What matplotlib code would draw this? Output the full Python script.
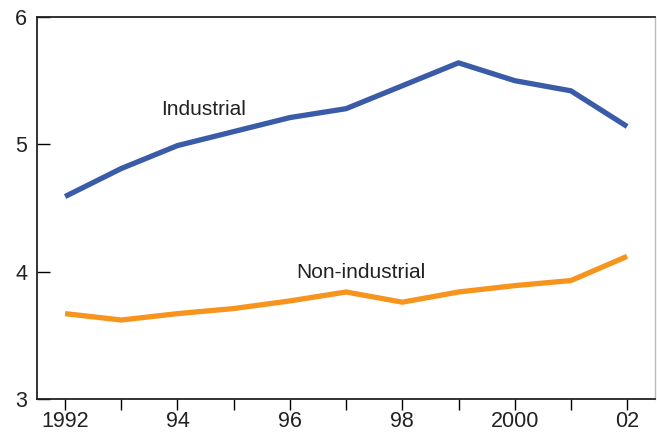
import matplotlib

matplotlib.use("Agg")

import matplotlib.pyplot as plt

plt.rcParams["font.family"] = ["Liberation Sans", "DejaVu Sans"]

years = list(range(1992, 2003))
industrial = [4.59, 4.81, 4.99, 5.10, 5.21, 5.28, 5.46, 5.64, 5.50, 5.42, 5.14]
non_industrial = [3.67, 3.62, 3.67, 3.71, 3.77, 3.84, 3.76, 3.84, 3.89, 3.93, 4.12]
tick_years = [1992, 1994, 1996, 1998, 2000, 2002]
tick_labels = ["1992", "94", "96", "98", "2000", "02"]

fig = plt.figure(figsize=(6.57, 4.36), dpi=100)
ax = fig.add_axes([0.0563, 0.085, 0.941, 0.876])

ax.plot(years, industrial, color="#3a5ba8", lw=3.8, solid_capstyle="butt")
ax.plot(years, non_industrial, color="#f7941d", lw=3.8, solid_capstyle="butt")

ax.text(1994.47, 5.27, "Industrial", fontsize=15, ha="center", va="center",
        color="#222222")
ax.text(1997.27, 3.99, "Non-industrial", fontsize=15, ha="center", va="center",
        color="#222222")

ax.set_xlim(1991.5, 2002.5)
ax.set_ylim(3, 6)
ax.set_yticks([3, 4, 5, 6])
ax.set_xticks(years, minor=True)
ax.set_xticks(tick_years)
ax.set_xticklabels(tick_labels)

ax.tick_params(axis="y", direction="in", length=9, width=1, labelsize=15.5,
               pad=7, labelcolor="#222222")
ax.tick_params(axis="x", which="both", direction="out", length=8, width=1,
               labelsize=15.5, pad=1, labelcolor="#222222")

for s in ["left", "bottom", "top"]:
    ax.spines[s].set_linewidth(1.3)
    ax.spines[s].set_color("#222222")
ax.spines["right"].set_color("#bbbbbb")
ax.spines["right"].set_linewidth(1)

fig.savefig("out.png", dpi=100)
plt.close(fig)
